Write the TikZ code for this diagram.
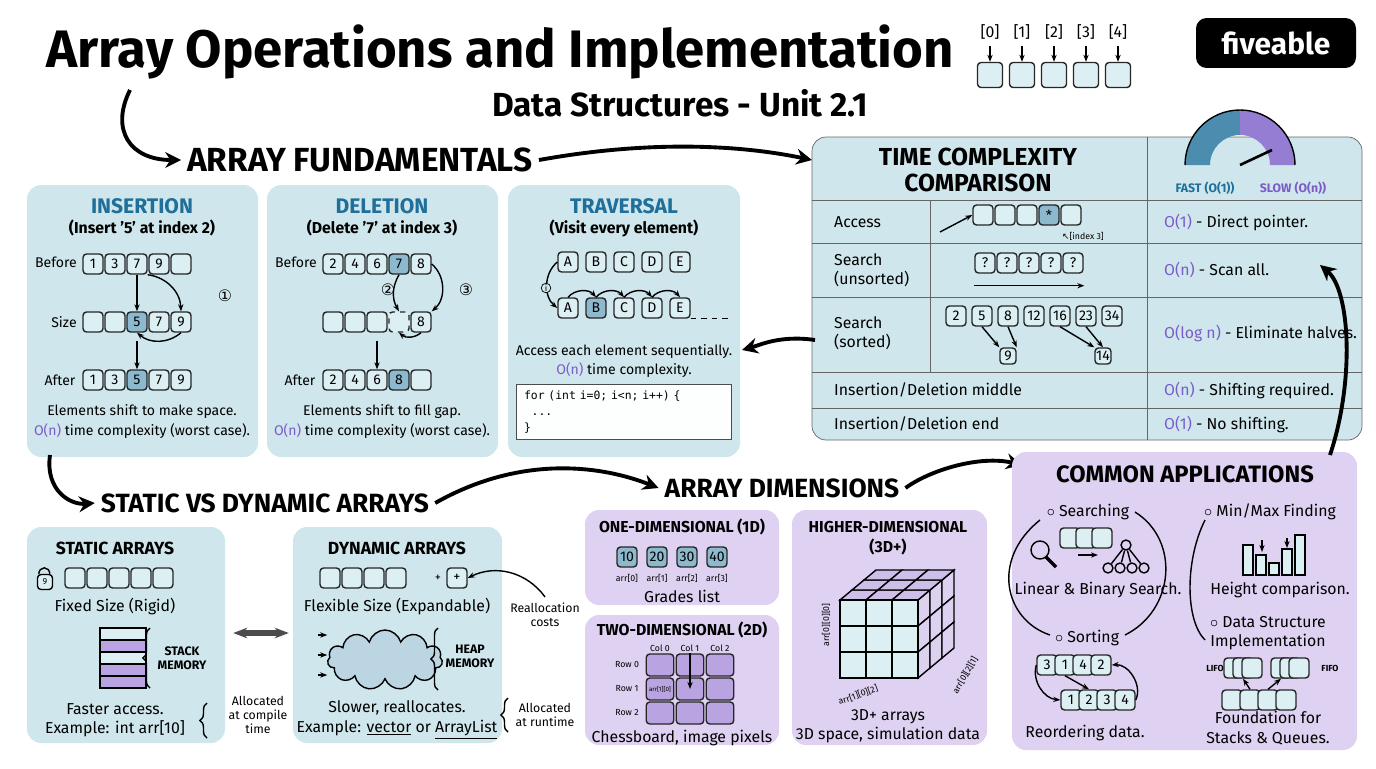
\documentclass[tikz,border=0pt]{standalone}
\usepackage{fontspec}
\setmainfont{Fira Sans}
\setmonofont{DejaVu Sans Mono}
\newfontfamily\symfont{DejaVu Sans}
\usetikzlibrary{arrows.meta,positioning,calc,shapes.symbols,decorations.pathreplacing}
\definecolor{panelblue}{HTML}{CFE7EC}
\definecolor{panelpurple}{HTML}{DED1F1}
\definecolor{cellfill}{HTML}{DCEFF3}
\definecolor{cellhi}{HTML}{8DB9CF}
\definecolor{headblue}{HTML}{1F6F9A}
\definecolor{opurple}{HTML}{7B5CC9}
\definecolor{cellpurple}{HTML}{B9A3E0}
\tikzset{
    % panels
    panel/.style={fill=panelblue, rounded corners=8pt},
    ppanel/.style={fill=panelpurple, rounded corners=8pt},
    % array cells
    cell/.style={draw=black!85, thick, fill=cellfill, rounded corners=2pt,
        minimum size=0.4cm, inner sep=0pt, font=\footnotesize},
    hi/.style={fill=cellhi},
    pc/.style={fill=cellpurple},
    % text
    ptitle/.style={font=\bfseries\large, text=headblue},
    pttitle/.style={font=\bfseries\normalsize, align=center},
    heading/.style={font=\bfseries\fontsize{19}{21}\selectfont},
    body/.style={font=\footnotesize, align=center},
    tiny label/.style={font=\fontsize{5}{6}\selectfont, inner sep=1pt},
    % arrows
    big arrow/.style={-{Stealth[length=9pt,width=9pt]}, line width=2.2pt},
    thin arrow/.style={-{Stealth[length=4pt]}, thick}
}
\newcommand\cellrow[5][22]{%
    \foreach \v/\s [count=\i] in {#5} {\node[cell,\s] (#2\i) at ({#3+#1*(\i-1)},#4) {\v};}}
\newcommand\On[1]{\textcolor{opurple}{#1}}
\begin{document}
\begin{tikzpicture}[x=0.02cm, y=-0.02cm]
\useasboundingbox (0,0) rectangle (1376,768);
% title
\node[font=\bfseries\fontsize{30}{32}\selectfont] (title) at (500,52) {Array Operations and Implementation};
\node[font=\bfseries\fontsize{19}{21}\selectfont] (subtitle) at (680,103) {Data Structures - Unit 2.1};
\foreach \i in {0,...,4} {
    \node[font=\small] (ix\i) at ({990+32*\i},32) {[\i]};
    \node[cell, minimum size=0.5cm] (ic\i) at ({990+32*\i},75) {};
    \draw[thin arrow] (ix\i.south) -- (ic\i.north);
}
\node[fill=black, rounded corners=6pt, minimum width=3.2cm, minimum height=1cm,
    text=white, font=\bfseries\fontsize{17}{19}\selectfont] (logo) at (1276,43) {fiveable};

% section headings
\node[heading] (fund) at (360,160) {ARRAY FUNDAMENTALS};
\node[heading, font=\bfseries\fontsize{15}{17}\selectfont] (svd) at (265,503) {STATIC VS DYNAMIC ARRAYS};
\node[heading, font=\bfseries\fontsize{15}{17}\selectfont] (dims) at (782,488) {ARRAY DIMENSIONS};
\coordinate (tstart) at (130,90);
\draw[big arrow] (tstart) .. controls (110,130) and (130,160) .. (fund.west);
\draw[big arrow] (fund.east) .. controls (650,140) and (740,145) .. (812,160);

% insertion
\fill[panel] (27,185) rectangle (258,457);
\node[ptitle] (ins) at (142,206) {INSERTION};
\node[body, font=\small\bfseries] (insub) at (142,228) {(Insert '5' at index 2)};
\node[body] (ib) at (56,262) {Before};
\cellrow{ib}{93}{264}{1/,3/,7/,9/,/}
\node[body] (is) at (64,322) {Size};
\cellrow{is}{93}{322}{/,/,5/hi,7/,9/}
\node[body] (ia) at (60,380) {After};
\cellrow{ia}{93}{380}{1/,3/,5/hi,7/,9/}
\draw[thin arrow] (ib3.south) -- (is3.north);
\draw[thin arrow] (ib3.south east) to[bend left=40] (is5.north);
\draw[thin arrow] (is5.south) to[bend left=40] (is3.south);
\draw[thin arrow] (is3.south) ++(0,8) -- (ia3.north);
\node[body, font=\symfont\small] (i1) at (225,296) {①};
\node[body] (it1) at (142,412) {Elements shift to make space.};
\node[body] (it2) at (142,431) {\On{O(n)} time complexity (worst case).};

% deletion
\fill[panel] (267,185) rectangle (498,457);
\node[ptitle] (del) at (382,206) {DELETION};
\node[body, font=\small\bfseries] (delsub) at (382,228) {(Delete '7' at index 3)};
\node[body] (db) at (296,262) {Before};
\cellrow{db}{333}{264}{2/,4/,6/,7/hi,8/}
\cellrow{ds}{333}{322}{/,/,/,/dashed,8/}
\node[body] (da) at (300,380) {After};
\cellrow{da}{333}{380}{2/,4/,6/,8/hi,/}
\draw[thin arrow] (db4.south) to[bend right=30] (ds4.north);
\draw[thin arrow] (db5.east) to[bend left=50] (ds5.north east);
\draw[thin arrow] (ds5.south) to[bend left=40] (ds4.south);
\draw[thin arrow] (ds3.south) ++(0,8) -- (da3.north);
\node[body, font=\symfont\small] (d2) at (388,290) {②};
\node[body, font=\symfont\small] (d3) at (466,290) {③};
\node[body] (dt1) at (382,412) {Elements shift to fill gap.};
\node[body] (dt2) at (382,431) {\On{O(n)} time complexity (worst case).};

% traversal
\fill[panel] (508,185) rectangle (740,457);
\node[ptitle] (trav) at (624,206) {TRAVERSAL};
\node[body, font=\small\bfseries] (travsub) at (624,228) {(Visit every element)};
\cellrow[28]{ta}{568}{262}{A/,B/,C/,D/,E/}
\cellrow[28]{tb}{568}{308}{A/,B/hi,C/,D/,E/}
\draw[thin arrow] (ta1.west) to[bend right=50] (tb1.west);
\foreach \i [evaluate=\i as \j using int(\i+1)] in {1,...,4}
    \draw[thin arrow] (tb\i.north) to[bend left=50] (tb\j.north);
\node[circle, draw, thin, fill=panelblue, inner sep=0.5pt, font=\fontsize{5}{6}\selectfont] (ti) at (546,288) {i};
\draw[thick, dashed] (tb5.south east) -- ++(40,0) coordinate (tend);
\node[body] (tt1) at (624,352) {Access each element sequentially.};
\node[body] (tt2) at (624,370) {\On{O(n)} time complexity.};
\node[draw=black!70, fill=white!95!panelblue, minimum width=4.3cm, minimum height=1.1cm,
    align=left, font=\ttfamily\fontsize{6.5}{9}\selectfont, text width=4cm] (code) at (624,412)
    {for (int i=0; i<n; i++) \{\\\ \ ...\\\}};

% time complexity table
\fill[panel, draw=black!60] (812,137) rectangle (1362,440);
\foreach \y in {200,243,297,372,408} \draw[black!60] (812,\y) -- (1362,\y);
\draw[black!60] (1147,137) -- (1147,440);
\draw[black!60] (930,200) -- (930,372);
\node[font=\bfseries\fontsize{14}{15}\selectfont, align=center] (tc) at (978,170) {TIME COMPLEXITY\\COMPARISON};
\fill[headblue!80] (1185,165) arc (180:270:55) -- (1240,135) arc (270:180:30) -- cycle;
\fill[opurple!80] (1240,110) arc (270:360:55) -- (1270,165) arc (360:270:30) -- cycle;
\draw[thick] (1185,165) arc (180:360:55);
\draw[line width=1.5pt] (1240,165) -- (1272,150);
\node[font=\scriptsize\bfseries, text=headblue] (fast) at (1205,188) {FAST (O(1))};
\node[font=\scriptsize\bfseries, text=opurple] (slow) at (1293,188) {SLOW (O(n))};
\node[body, font=\small, anchor=west] (r1) at (828,222) {Access};
\cellrow{ac}{983}{215}{/,/,/,*/hi,/}
\node[tiny label] (acl) at (1083,236) {{\symfont ↖}[index 3]};
\draw[thin arrow] (940,232) -- (ac1.west);
\node[body, font=\small, anchor=west, align=left] (r2) at (828,270) {Search\\(unsorted)};
\cellrow{su}{985}{263}{?/,?/,?/,?/,?/}
\draw[thin arrow] (su1.south west) ++(0,12) -- ++(110,0) coordinate (suend);
\node[body, font=\small, anchor=west, align=left] (r3) at (828,333) {Search\\(sorted)};
\cellrow[26]{ss}{956}{316}{2/,5/,8/,12/,16/,23/,34/}
\node[cell, minimum size=0.32cm] (s9) at (1008,356) {9};
\node[cell, minimum size=0.32cm] (s14) at (1103,356) {14};
\draw[thin arrow] (ss2.south) -- (s9.north west);
\draw[thin arrow] (ss3.south) -- (s9.north east);
\draw[thin arrow] (ss5.south) -- (s14.north west);
\draw[thin arrow] (ss6.south) -- (s14.north);
\node[body, font=\small, anchor=west] (r4) at (828,390) {Insertion/Deletion middle};
\node[body, font=\small, anchor=west] (r5) at (828,424) {Insertion/Deletion end};
\foreach \y/\t [count=\k] in {222/{\On{O(1)} - Direct pointer.}, 270/{\On{O(n)} - Scan all.},
    333/{\On{O(log n)} - Eliminate halves.}, 390/{\On{O(n)} - Shifting required.}, 424/{\On{O(1)} - No shifting.}}
    \node[body, font=\small, anchor=west] (c\k) at (1158,\y) {\t};
\coordinate (tcin) at (815,340);
\draw[big arrow] (tcin) .. controls (780,335) and (760,345) .. (742,350);

% static arrays
\draw[big arrow] (50,455) .. controls (45,490) and (70,505) .. (svd.west);
\fill[panel] (27,527) rectangle (225,743);
\node[font=\bfseries\normalsize] (st) at (115,548) {STATIC ARRAYS};
\node[draw, thick, fill=cellfill, rounded corners=2pt, minimum width=0.3cm, minimum height=0.3cm,
    inner sep=0pt, font=\fontsize{5}{6}\selectfont] (lock) at (45,582) {9};
\draw[thick] (lock.north west) ++(2,0) arc (180:360:5.5 and 6);
\cellrow{sa}{75}{578}{/,/,/,/,/}
\node[body, font=\small] (fixed) at (115,606) {Fixed Size (Rigid)};
\foreach \k/\c in {0/cellfill,1/cellpurple,2/cellfill,3/cellpurple,4/cellpurple}
    \draw[thick, fill=\c] (100,{628+12*\k}) rectangle (146,{640+12*\k});
\coordinate (stk) at (150,628);
\draw[decorate, decoration={brace, amplitude=4pt, mirror}, thick] (stk) -- (150,688);
\node[font=\scriptsize\bfseries, align=center] (stm) at (182,658) {STACK\\MEMORY};
\node[body, font=\small, align=center] (sfa) at (115,720) {Faster access.\\Example: int arr[10]};
\draw[decorate, decoration={brace, amplitude=4pt, mirror}, thick] (207,703) -- (207,738);
\node[font=\scriptsize, align=center] (scomp) at (258,715) {Allocated\\at compile\\time};
\node[inner sep=0pt] (lr1) at (232,633) {};
\node[inner sep=0pt] (lr2) at (290,633) {};
\draw[{Stealth[length=8pt]}-{Stealth[length=8pt]}, line width=3pt, black!70] (lr1) -- (lr2);

% dynamic arrays
\fill[panel] (293,527) rectangle (502,743);
\node[font=\bfseries\normalsize] (dy) at (397,548) {DYNAMIC ARRAYS};
\cellrow{dc}{330}{578}{/,/,/,/}
\node[cell] (dplus) at (457,578) {+};
\node[font=\scriptsize] (dp) at (438,578) {+};
\node[font=\scriptsize, align=center] (realloc) at (545,615) {Reallocation\\costs};
\draw[thin arrow] (realloc.north) to[bend right=40] (dplus.east);
\node[body, font=\small] (flex) at (397,606) {Flexible Size (Expandable)};
\node[cloud, cloud puffs=11, draw, thick, fill=cellhi!60, minimum width=2.3cm, minimum height=1.2cm] (heap) at (385,660) {};
\foreach \y in {635,655,675} {
    \coordinate (hs\y) at (318,\y);
    \draw[thin arrow] (hs\y) -- (heap.west |- 0,\y);
}
\draw[decorate, decoration={brace, amplitude=4pt, mirror}, thick] (438,628) -- (438,690);
\node[font=\scriptsize\bfseries, align=center] (hm) at (470,656) {HEAP\\MEMORY};
\node[body, font=\small, align=center] (dsl) at (397,720) {Slower, reallocates.\\Example: \underline{vector} or \underline{ArrayList}};
\draw[decorate, decoration={brace, amplitude=4pt, mirror}, thick] (508,698) -- (508,732);
\node[font=\scriptsize, align=center] (drun) at (545,715) {Allocated\\at runtime};

% dimensions
\draw[big arrow] (svd.east) .. controls (520,455) and (600,465) .. (dims.west);
\fill[ppanel] (585,510) rectangle (779,605);
\node[pttitle, font=\bfseries\small] (one) at (682,527) {ONE-DIMENSIONAL (1D)};
\cellrow[30]{od}{627}{557}{10/hi,20/hi,30/hi,40/hi}
\foreach \i [count=\k] in {0,...,3} \node[tiny label] (odl\k) at ({627+30*\i},578) {arr[\i]};
\node[body, font=\small] (grades) at (682,596) {Grades list};
\fill[ppanel] (585,615) rectangle (779,745);
\node[pttitle, font=\bfseries\small] (two) at (682,630) {TWO-DIMENSIONAL (2D)};
\foreach \c in {0,1,2} {
    \node[tiny label] (col\c) at ({660+30*\c},648) {Col \c};
    \node[tiny label] (row\c) at (627,{665+24*\c}) {Row \c};
    \foreach \r in {0,1,2}
        \node[cell, pc, minimum width=0.55cm, minimum height=0.44cm] (g\r\c) at ({660+30*\c},{665+24*\r}) {};
}
\node[font=\fontsize{3.5}{4}\selectfont, inner sep=0pt] (g11l) at (660,689) {arr[1][0]};
\draw[thin arrow] (col1.south) -- (g11.center);
\node[body, font=\small] (chess) at (682,738) {Chessboard, image pixels};
\fill[ppanel] (792,510) rectangle (987,745);
\node[pttitle, font=\bfseries\small] (three) at (888,538) {HIGHER-DIMENSIONAL\\(3D+)};
\foreach \a in {0,1,2} \foreach \b in {0,1,2} {
    \draw[thick, fill=cellpurple!70] ({840+26*\a+12*\b},{600-10*\b}) -- ++(26,0) -- ++(12,-10) -- ++(-26,0) -- cycle;
    \draw[thick, fill=cellfill] ({840+26*\a},{600+26*\b}) rectangle ++(26,26);
    \draw[thick, fill=cellpurple!50] ({918+12*\a},{600+26*\b-10*\a}) -- ++(12,-10) -- ++(0,26) -- ++(-12,10) -- cycle;
}
\node[tiny label, rotate=90] (zl) at (826,625) {arr[0][0][0]};
\node[tiny label, rotate=20] (xl) at (858,695) {arr[1][0][2]};
\node[tiny label, rotate=60] (yl) at (965,675) {arr[0][2][1]};
\node[body, font=\small, align=center] (three2) at (888,726) {3D+ arrays\\3D space, simulation data};

% applications
\draw[big arrow] (dims.east) .. controls (930,470) and (980,455) .. (1022,465);
\fill[ppanel] (1012,452) rectangle (1357,750);
\node[font=\bfseries\fontsize{13.5}{15}\selectfont] (apps) at (1185,474) {COMMON APPLICATIONS};
\draw[big arrow] (1330,455) .. controls (1355,380) and (1350,290) .. (1320,265);
\node[font=\small] (srch) at (1088,512) {$\circ$ Searching};
\draw[thick] (1040,550) circle (9);
\draw[line width=2pt] (1046,557) -- (1056,567);
\cellrow[16]{sc}{1070}{538}{/,/,/}
\draw[thin arrow] (1078,555) -- (1098,555);
\node[circle, draw, thick, inner sep=2pt] (t0) at (1126,545) {};
\foreach \k/\x in {1/1108,2/1120,3/1132,4/1144} {
    \node[circle, draw, thick, inner sep=2pt] (tl\k) at (\x,568) {};
    \draw[thick] (t0) -- (tl\k);
}
\node[body, font=\small] (lbs) at (1098,590) {Linear \& Binary Search.};
\draw[thick] (1040,520) .. controls (990,560) and (1005,620) .. (1050,635);
\draw[thick] (1135,512) .. controls (1180,540) and (1175,610) .. (1125,635);
\node[font=\small] (sort) at (1087,638) {$\circ$ Sorting};
\cellrow[18]{so}{1047}{665}{3/,1/,4/,2/}
\cellrow[18]{sn}{1071}{700}{1/,2/,3/,4/}
\draw[thin arrow] (so1.west) to[bend right=50] (sn1.west);
\draw[thin arrow] (sn4.east) to[bend right=60] (so4.east);
\draw[thin arrow] (so2.south) -- (sn2.north);
\node[body, font=\small] (reord) at (1085,733) {Reordering data.};
\node[font=\small] (minmax) at (1270,512) {$\circ$ Min/Max Finding};
\draw[thick] (1205,520) .. controls (1185,560) and (1185,620) .. (1205,640);
\foreach \x/\h in {1243/30,1256/20,1269/12,1282/26,1295/40}
    \draw[thick, fill=cellfill] (\x,575) rectangle ++(10,-\h);
\draw[thin arrow] (1262,540) -- (1262,552);
\draw[thin arrow] (1287,538) -- (1287,548);
\node[body, font=\small] (hc) at (1280,590) {Height comparison.};
\node[body, font=\small, align=center] (dsi) at (1268,633) {$\circ$ Data Structure\\Implementation};
\node[font=\tiny\bfseries] (lifo) at (1215,668) {LIFO};
\node[font=\tiny\bfseries] (fifo) at (1330,668) {FIFO};
\cellrow[9]{lf}{1234}{668}{/,/,/}
\cellrow[9]{ff}{1281}{668}{/,/,/}
\cellrow[18]{dq}{1232}{700}{/,/,/,/}
\draw[thin arrow] (dq2.north) -- (lf2.south);
\draw[thin arrow] (dq3.north) -- (ff1.south);
\node[body, font=\small, align=center] (found) at (1268,728) {Foundation for\\Stacks \& Queues.};
\end{tikzpicture}
\end{document}
